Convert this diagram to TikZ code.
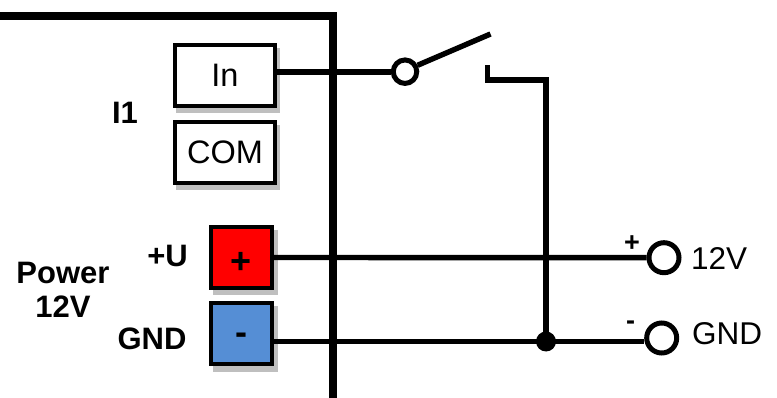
\documentclass[tikz,border=0pt]{standalone}
\usepackage{fontspec}
\setmainfont{Liberation Sans}
\usetikzlibrary{backgrounds}
\tikzset{
  x=1pt,y=-1pt,
  boxnode/.style={draw=black,line width=4pt,inner sep=0pt,minimum width=#1},
  iobox/.style={boxnode=100pt,minimum height=61pt,fill=white,font=\fontsize{32.5}{34}\selectfont},
  pwrbox/.style={boxnode=61pt,minimum height=61pt,font=\fontsize{36}{38}\selectfont\bfseries},
  shadowfill/.style={fill=black!25},
  wire/.style={draw=black,line width=5.4pt},
  frameline/.style={draw=black,line width=7.5pt,line join=miter},
  terminal/.style={circle,draw=black,line width=5pt,fill=white,inner sep=0pt,minimum size=#1},
  lab/.style={font=\fontsize{31}{34}\selectfont\bfseries,align=center,inner sep=0pt},
  vlab/.style={font=\fontsize{31.5}{34}\selectfont,inner sep=0pt,anchor=west},
  sign/.style={font=\fontsize{27}{29}\selectfont\bfseries,inner sep=0pt},
}
\begin{document}
\begin{tikzpicture}
\useasboundingbox (0,0) rectangle (777,398);
\coordinate (ftl) at (0,16);
\coordinate (fc) at (333,16);
\coordinate (fb) at (333,398);
\draw[frameline] (ftl) -- (fc) -- (fb);
\node[iobox] (in) at (225,75.5) {In};
\node[iobox] (com) at (225,152.5) {COM};
\node[pwrbox,fill=red] (plus) at (241.5,257.5) {\raisebox{-16.5pt}[0pt][0pt]{+}};
\node[pwrbox,fill={rgb,255:red,85;green,142;blue,213}] (minus) at (241.5,333.5) {\raisebox{-11.5pt}[0pt][0pt]{-}};
\begin{scope}[on background layer]
\fill[shadowfill] ([shift={(3,5)}]in.north west) rectangle ([shift={(3,5)}]in.south east);
\fill[shadowfill] ([shift={(3,5)}]com.north west) rectangle ([shift={(3,5)}]com.south east);
\fill[shadowfill] ([shift={(3.5,5.5)}]plus.north west) rectangle ([shift={(3.5,5.5)}]plus.south east);
\fill[shadowfill] ([shift={(3.5,5.5)}]minus.north west) rectangle ([shift={(3.5,5.5)}]minus.south east);
\end{scope}
\node[lab] (i1) at (125,113) {I1};
\node[lab] (u) at (167.5,256) {+U};
\node[lab] (g) at (152,339) {GND};
\node[lab] (pw) at (63,290) {Power\\12V};
\node[terminal=23.5pt] (sw) at (405,71.7) {};
\node[terminal=30pt] (t12) at (664,257.7) {};
\node[terminal=30pt] (tg) at (661.7,338) {};
\node[circle,fill=black,inner sep=0pt,minimum size=20pt] (dot) at (546,341.5) {};
\coordinate (armend) at (490.5,34);
\coordinate (c1) at (487.7,65.5);
\coordinate (c2) at (487.7,80);
\coordinate (c3) at (546,80);
\coordinate (tgin) at (tg.west |- dot);
\draw[wire] (in.east) ++(0,-3.5) coordinate (ine) -- (sw.west |- ine);
\draw[wire] (sw.27) -- (armend);
\draw[wire,line join=miter] (c1) -- (c2) -- (c3) -- (dot.center);
\draw[wire] (plus.east) -- (t12.west);
\draw[wire] (minus.east |- dot) -- (dot.center) -- (tgin);
\node[sign] (ps) at (632,244) {+};
\node[sign] (ms) at (630.7,325) {-};
\node[vlab] (l12) at (691,259) {12V};
\node[vlab] (lg) at (692,334) {GND};
\end{tikzpicture}
\end{document}
